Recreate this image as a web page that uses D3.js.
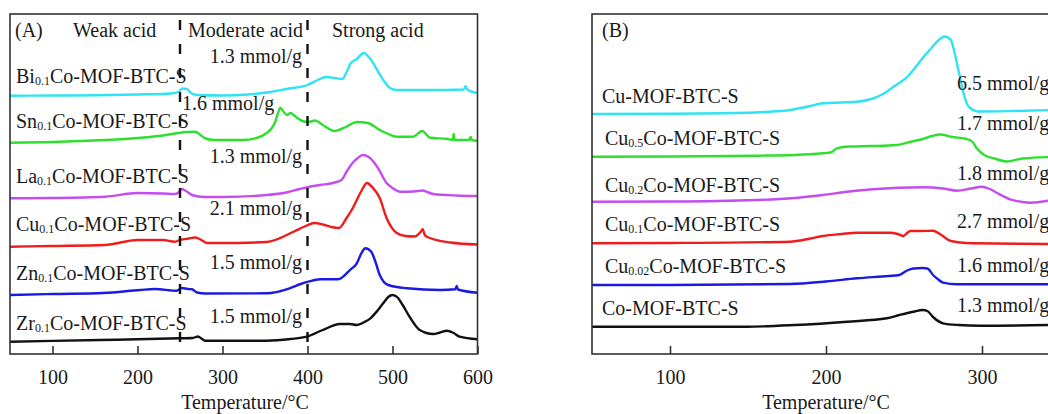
<!DOCTYPE html>
<html>
<head>
<meta charset="utf-8">
<script src="https://cdn.jsdelivr.net/npm/d3@7"></script>
<style>
  body { margin: 0; background: #fff; }
  svg { display: block; }
  text { font-family: "Liberation Serif", "Times New Roman", serif; fill: #1a1a1a; }
</style>
</head>
<body>
<div id="chart"></div>
<script>
// ---- Panel A: NH3-TPD of M0.1Co-MOF-BTC-S, [temperature °C, signal a.u. incl. offset]
const biA = [[50,258.3],[100,258.5],[150,258.7],[200,259.5],[240,260.5],[248,262],[253,265.5],[258,265],[263,261],[270,259],[300,258.5],[330,259.5],[352,261.5],[375,265],[400,269],[412,274],[422,277],[432,276],[441,275],[446,282],[451,291],[458,295],[466,301],[474,295],[482,284],[490,273],[497,266],[505,264],[540,264],[584,264.5],[586,268],[588,264.5],[600,261]];
const snA = [[50,211.3],[100,212],[162,214],[200,216],[230,218.5],[248,221],[258,222],[268,222.3],[274,219],[280,215.5],[290,214],[323,214],[340,216],[352,221],[358,226],[362,232],[365,240],[368,246.3],[372,242],[376,239],[380,241],[383,239.5],[388,236],[394,233],[401,232],[409,233.5],[418,229],[432,223],[445,227],[458,232],[471,231],[485,224],[495,220],[505,217.3],[524,217.3],[535,223],[544,216.3],[565,215],[571,214],[572,220],[573,214],[590,214],[592,217],[593,214],[600,213]];
const laA = [[50,155.7],[100,156],[162,157.3],[200,161],[230,160.5],[244,160],[249,162],[252,165],[257,163],[264,159],[279,157],[300,157],[352,159],[375,161.5],[391,165],[401,167],[415,169],[430,171],[440,174],[446,182.3],[453,191],[459,196],[465,199],[472,197],[482,187.3],[493,171],[500,166],[509,162.3],[525,162.5],[535,163.5],[548,160],[575,158.5],[600,158]];
const cuA = [[50,107.3],[100,108],[162,109],[200,114],[230,114],[244,112.3],[250,114],[260,115.5],[268,116.5],[275,114],[282,111],[300,111],[352,112],[383,122],[398,128],[408,131],[418,129.5],[428,127],[437,126],[446,136],[452,144],[458,154],[464,164],[470,171],[476,167],[485,156],[493,136],[505,121],[515,118],[526,117.5],[533,122],[535.5,124.7],[538,119],[541,117],[568,111.5],[600,109.5]];
const znA = [[50,59],[100,60],[160,61],[203,64],[220,65],[246,63.3],[252,66],[259,65],[264,64.7],[270,61.5],[280,60.5],[352,60.7],[379,65.7],[392,70],[401,72.3],[415,74.7],[436,74.7],[444,79],[450,84],[458,90.7],[463,100],[468,105.7],[475,102.3],[480,92],[485,79],[495,69],[517,65.7],[556,64],[574,64.7],[575.5,68],[577,64.5],[600,61.3]];
const zrA = [[50,12.3],[156,14],[200,14.7],[250,15.7],[265,16],[271,17.5],[276,15],[280,13.3],[352,13.3],[380,15],[399,17.3],[418,24],[438,30],[450,30],[458,29],[467,32],[474,35.7],[482,43],[489,50.7],[495,57],[500,59],[506,56.5],[512,49],[520,37.3],[532,24],[548,20],[556,21.5],[564,23.3],[572,21],[579,17.3],[600,14.7]];

// ---- Panel B: CuxCo-MOF-BTC-S series
const cuB = [[50,240],[100,240.2],[134,240.7],[160,242],[177,244],[190,248],[198,250.7],[210,251.5],[220,252.3],[229,255],[236,259.5],[244,268],[252,277],[257,286],[262,296],[267,305],[271,312],[276,317.5],[280,314],[282,304],[284.6,286],[287,269],[289,256],[292,246.5],[298,242.5],[320,243],[345,244]];
const cu05B = [[50,197.3],[100,197.5],[156,198.3],[180,199],[198,200.7],[203,201.5],[207,205.7],[215,207.5],[230,208],[245,209],[255,212.5],[262,215],[268,218],[273,219.5],[281,217],[290,215],[294,212],[297,205],[302,198.5],[308,195.5],[316,192.5],[326,195.5],[345,197]];
const cu02B = [[50,152.3],[100,152.5],[156,154],[180,156],[198,159],[215,162.5],[230,164.7],[262,166.7],[275,165.5],[284,163.3],[293,165.5],[300,167.3],[305,165],[310,160.7],[318,154.7],[326,152],[331,151.3],[345,154]];
const cu01B = [[50,110.7],[100,111],[177,112.3],[190,115.5],[198,118],[210,120],[220,121.3],[241,121.3],[246,120],[249.6,118],[252,121],[254,123],[260,123],[268.6,123.3],[274,119],[279.5,113.3],[286,111.5],[294,110.7],[345,110]];
const cu002B = [[50,69],[100,69],[177,70],[200,72.5],[220,75.7],[240,78],[247,79],[252,83.5],[256,85.5],[262,86],[265,85.5],[268.6,79],[272,74.5],[275,71.3],[284,69.7],[345,69.7]];
const coB = [[50,27.3],[100,27.3],[149,27.3],[180,29],[213.5,32.3],[239,35.7],[247,39],[256,42.3],[262,44],[265,43],[268.6,37],[275,30.7],[285,29],[298.7,28.3],[345,29]];

// sample names [prefix, subscript, suffix] and acid amounts
const namesA = [["Bi","0.1","Co-MOF-BTC-S"],["Sn","0.1","Co-MOF-BTC-S"],["La","0.1","Co-MOF-BTC-S"],["Cu","0.1","Co-MOF-BTC-S"],["Zn","0.1","Co-MOF-BTC-S"],["Zr","0.1","Co-MOF-BTC-S"]];
const amountsA = ["1.3 mmol/g","1.6 mmol/g","1.3 mmol/g","2.1 mmol/g","1.5 mmol/g","1.5 mmol/g"];
const namesB = [["Cu-MOF-BTC-S","",""],["Cu","0.5","Co-MOF-BTC-S"],["Cu","0.2","Co-MOF-BTC-S"],["Cu","0.1","Co-MOF-BTC-S"],["Cu","0.02","Co-MOF-BTC-S"],["Co-MOF-BTC-S","",""]];
const amountsB = ["6.5 mmol/g","1.7 mmol/g","1.8 mmol/g","2.7 mmol/g","1.6 mmol/g","1.3 mmol/g"];
const zones = ["Weak acid","Moderate acid","Strong acid"];
const zoneBounds = [250, 400];
const ticksA = [100,200,300,400,500,600];
const ticksB = [100,200,300];

const seriesA = [biA, snA, laA, cuA, znA, zrA];
const seriesB = [cuB, cu05B, cu02B, cu01B, cu002B, coB];
const colors = ["#2fe4f2","#2ee02e","#c44cf0","#ee1c1c","#1a1ae0","#111111"];

const W = 1048, H = 414;
const svg = d3.select("#chart").append("svg").attr("width", W).attr("height", H);

const frameTop = 14, frameBottom = 354;
const yScale = d3.scaleLinear().domain([0, 340]).range([frameBottom, frameTop]);

function addName(g, x, y, parts) {
  const t = g.append("text").attr("x", x).attr("y", y).style("font-size", "20px");
  t.append("tspan").text(parts[0]);
  if (parts[1]) {
    t.append("tspan").attr("dy", 2).style("font-size", "12px").text(parts[1]);
    t.append("tspan").attr("dy", -2).text(parts[2]);
  }
}

function panel(x0, x1, domain, ticks, series, titleX) {
  const x = d3.scaleLinear().domain(domain).range([x0, x1]);
  const g = svg.append("g");
  const line = d3.line().x(d => x(d[0])).y(d => yScale(d[1])).curve(d3.curveMonotoneX);
  series.forEach((s, i) => {
    g.append("path").datum(s).attr("d", line)
      .attr("fill", "none").attr("stroke", colors[i]).attr("stroke-width", 2.4)
      .attr("stroke-linejoin", "round");
  });
  // frame
  g.append("rect").attr("x", x0).attr("y", frameTop).attr("width", x1 - x0).attr("height", frameBottom - frameTop)
    .attr("fill", "none").attr("stroke", "#333").attr("stroke-width", 1.6);
  // inward ticks
  const ax = g.append("g").attr("transform", `translate(0,${frameBottom})`)
    .call(d3.axisBottom(x).tickValues(ticks).tickSizeInner(-8).tickSizeOuter(0).tickPadding(16).tickFormat(d3.format("d")));
  ax.select(".domain").remove();
  ax.selectAll("line").attr("stroke", "#333").attr("stroke-width", 1.6);
  ax.selectAll("text").style("font-size", "20px").style("font-family", "Liberation Serif, serif").attr("fill", "#1a1a1a");
  g.append("text").attr("x", titleX).attr("y", 409).attr("text-anchor", "middle")
    .style("font-size", "20px").text("Temperature/°C");
  return { x, g };
}

// Panel A
const A = panel(10, 477.5, [50, 600], ticksA, seriesA, 245);
zoneBounds.forEach(t => {
  A.g.append("line").attr("x1", A.x(t)).attr("x2", A.x(t)).attr("y1", frameTop + 6).attr("y2", frameBottom)
    .attr("stroke", "#111").attr("stroke-width", 2.4).attr("stroke-dasharray", "10,14");
});
A.g.append("text").attr("x", 15).attr("y", 37).style("font-size", "20px").text("(A)");
A.g.append("text").attr("x", 73).attr("y", 37).style("font-size", "20px").text(zones[0]);
A.g.append("text").attr("x", 188).attr("y", 37).style("font-size", "20px").text(zones[1]);
A.g.append("text").attr("x", 332).attr("y", 37).style("font-size", "20px").text(zones[2]);
const nameYA = [83, 128, 183, 231, 280, 330];
const amtYA = [63, 110, 163, 215, 269, 323];
namesA.forEach((n, i) => addName(A.g, 16, nameYA[i], n));
amountsA.forEach((a, i) => {
  const t = A.g.append("text").attr("y", amtYA[i]).style("font-size", "20px").text(a);
  if (i === 1) t.attr("x", 182); else t.attr("x", 302).attr("text-anchor", "end");
});

// Panel B (right edge runs past the picture)
const B = panel(592, 1138, [50, 400], ticksB, seriesB, 826);
B.g.append("text").attr("x", 602).attr("y", 37).style("font-size", "20px").text("(B)");
const nameYB = [103, 145, 192, 231, 273, 315];
const amtYB = [90, 130, 180, 228, 272, 312];
namesB.forEach((n, i) => addName(B.g, n[1] ? 605 : 602, nameYB[i], n));
amountsB.forEach((a, i) => {
  B.g.append("text").attr("x", 957).attr("y", amtYB[i]).style("font-size", "20px").text(a);
});
</script>
</body>
</html>
